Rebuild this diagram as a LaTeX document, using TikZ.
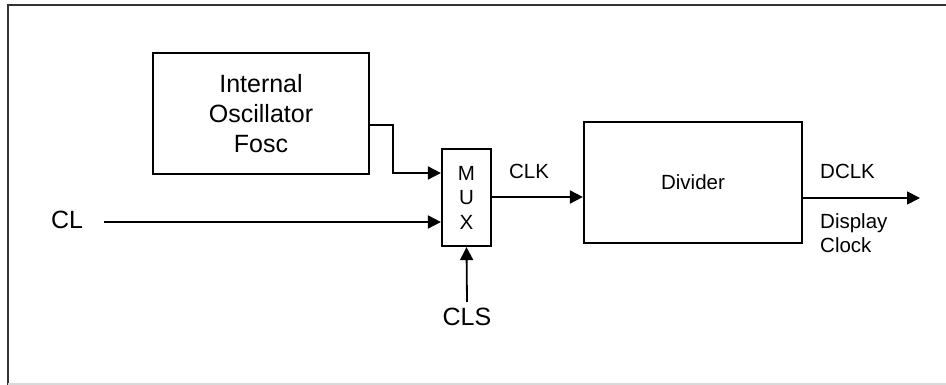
\documentclass[tikz,border=0pt]{standalone}
\usepackage{fontspec}
\setmainfont{Liberation Sans}
\usetikzlibrary{arrows.meta}
\begin{document}
\begin{tikzpicture}[x=1pt,y=-1pt,
  blk/.style={draw=black,line width=2.2pt,rectangle,inner sep=0pt,align=center},
  conn/.style={line width=1.8pt,-{Triangle[length=13pt,width=13pt]}},
  bigtxt/.style={font=\fontsize{25}{30}\selectfont,inner sep=0pt},
  smalltxt/.style={font=\fontsize{20.5}{24.5}\selectfont,inner sep=0pt},
  frame/.style={draw=black!80,line width=2pt}]
\useasboundingbox (0,0) rectangle (946,385);
% frame
\draw[frame] (8,386) -- (8,5) -- (948,5);
\draw[draw=black!15,line width=1.5pt] (8,384) -- (948,384);
% blocks
\node[blk,minimum width=216pt,minimum height=121pt,font=\fontsize{25}{30}\selectfont] (osc) at (261,113.5) {Internal\\Oscillator\\Fosc};
\node[blk,minimum width=49pt,minimum height=97pt,font=\fontsize{20.5}{24.5}\selectfont] (mux) at (466.5,197.5) {M\\U\\X};
\node[blk,minimum width=218pt,minimum height=121pt,font=\fontsize{20.5}{24.5}\selectfont] (div) at (693,182.5) {Divider};
% labels
\node[bigtxt,anchor=base west] (cl) at (51,229) {CL};
\node[bigtxt,anchor=base] (cls) at (467,325) {CLS};
\node[smalltxt,anchor=base] (clk) at (529,179) {CLK};
\node[smalltxt,anchor=base west] (dclk) at (820,179) {DCLK};
\node[smalltxt,anchor=north west,align=left] (disp) at (820,213) {Display\\Clock};
% coordinates
\coordinate (oscout) at (369,125);
\coordinate (bend) at (393,125);
\coordinate (muxin1) at (442,173);
\coordinate (clstart) at (104,222);
\coordinate (clsstart) at (467,302);
\coordinate (dclkend) at (920,198);
% connectors
\draw[conn] (oscout) -- (bend) |- (mux.west |- muxin1);
\draw[conn] (clstart) -- (mux.west |- clstart);
\draw[conn] (clsstart) -- (mux.south);
\draw[conn] (mux.east |- 0,197) -- (div.west |- 0,197);
\draw[conn] (div.east |- dclkend) -- (dclkend);
\end{tikzpicture}
\end{document}
